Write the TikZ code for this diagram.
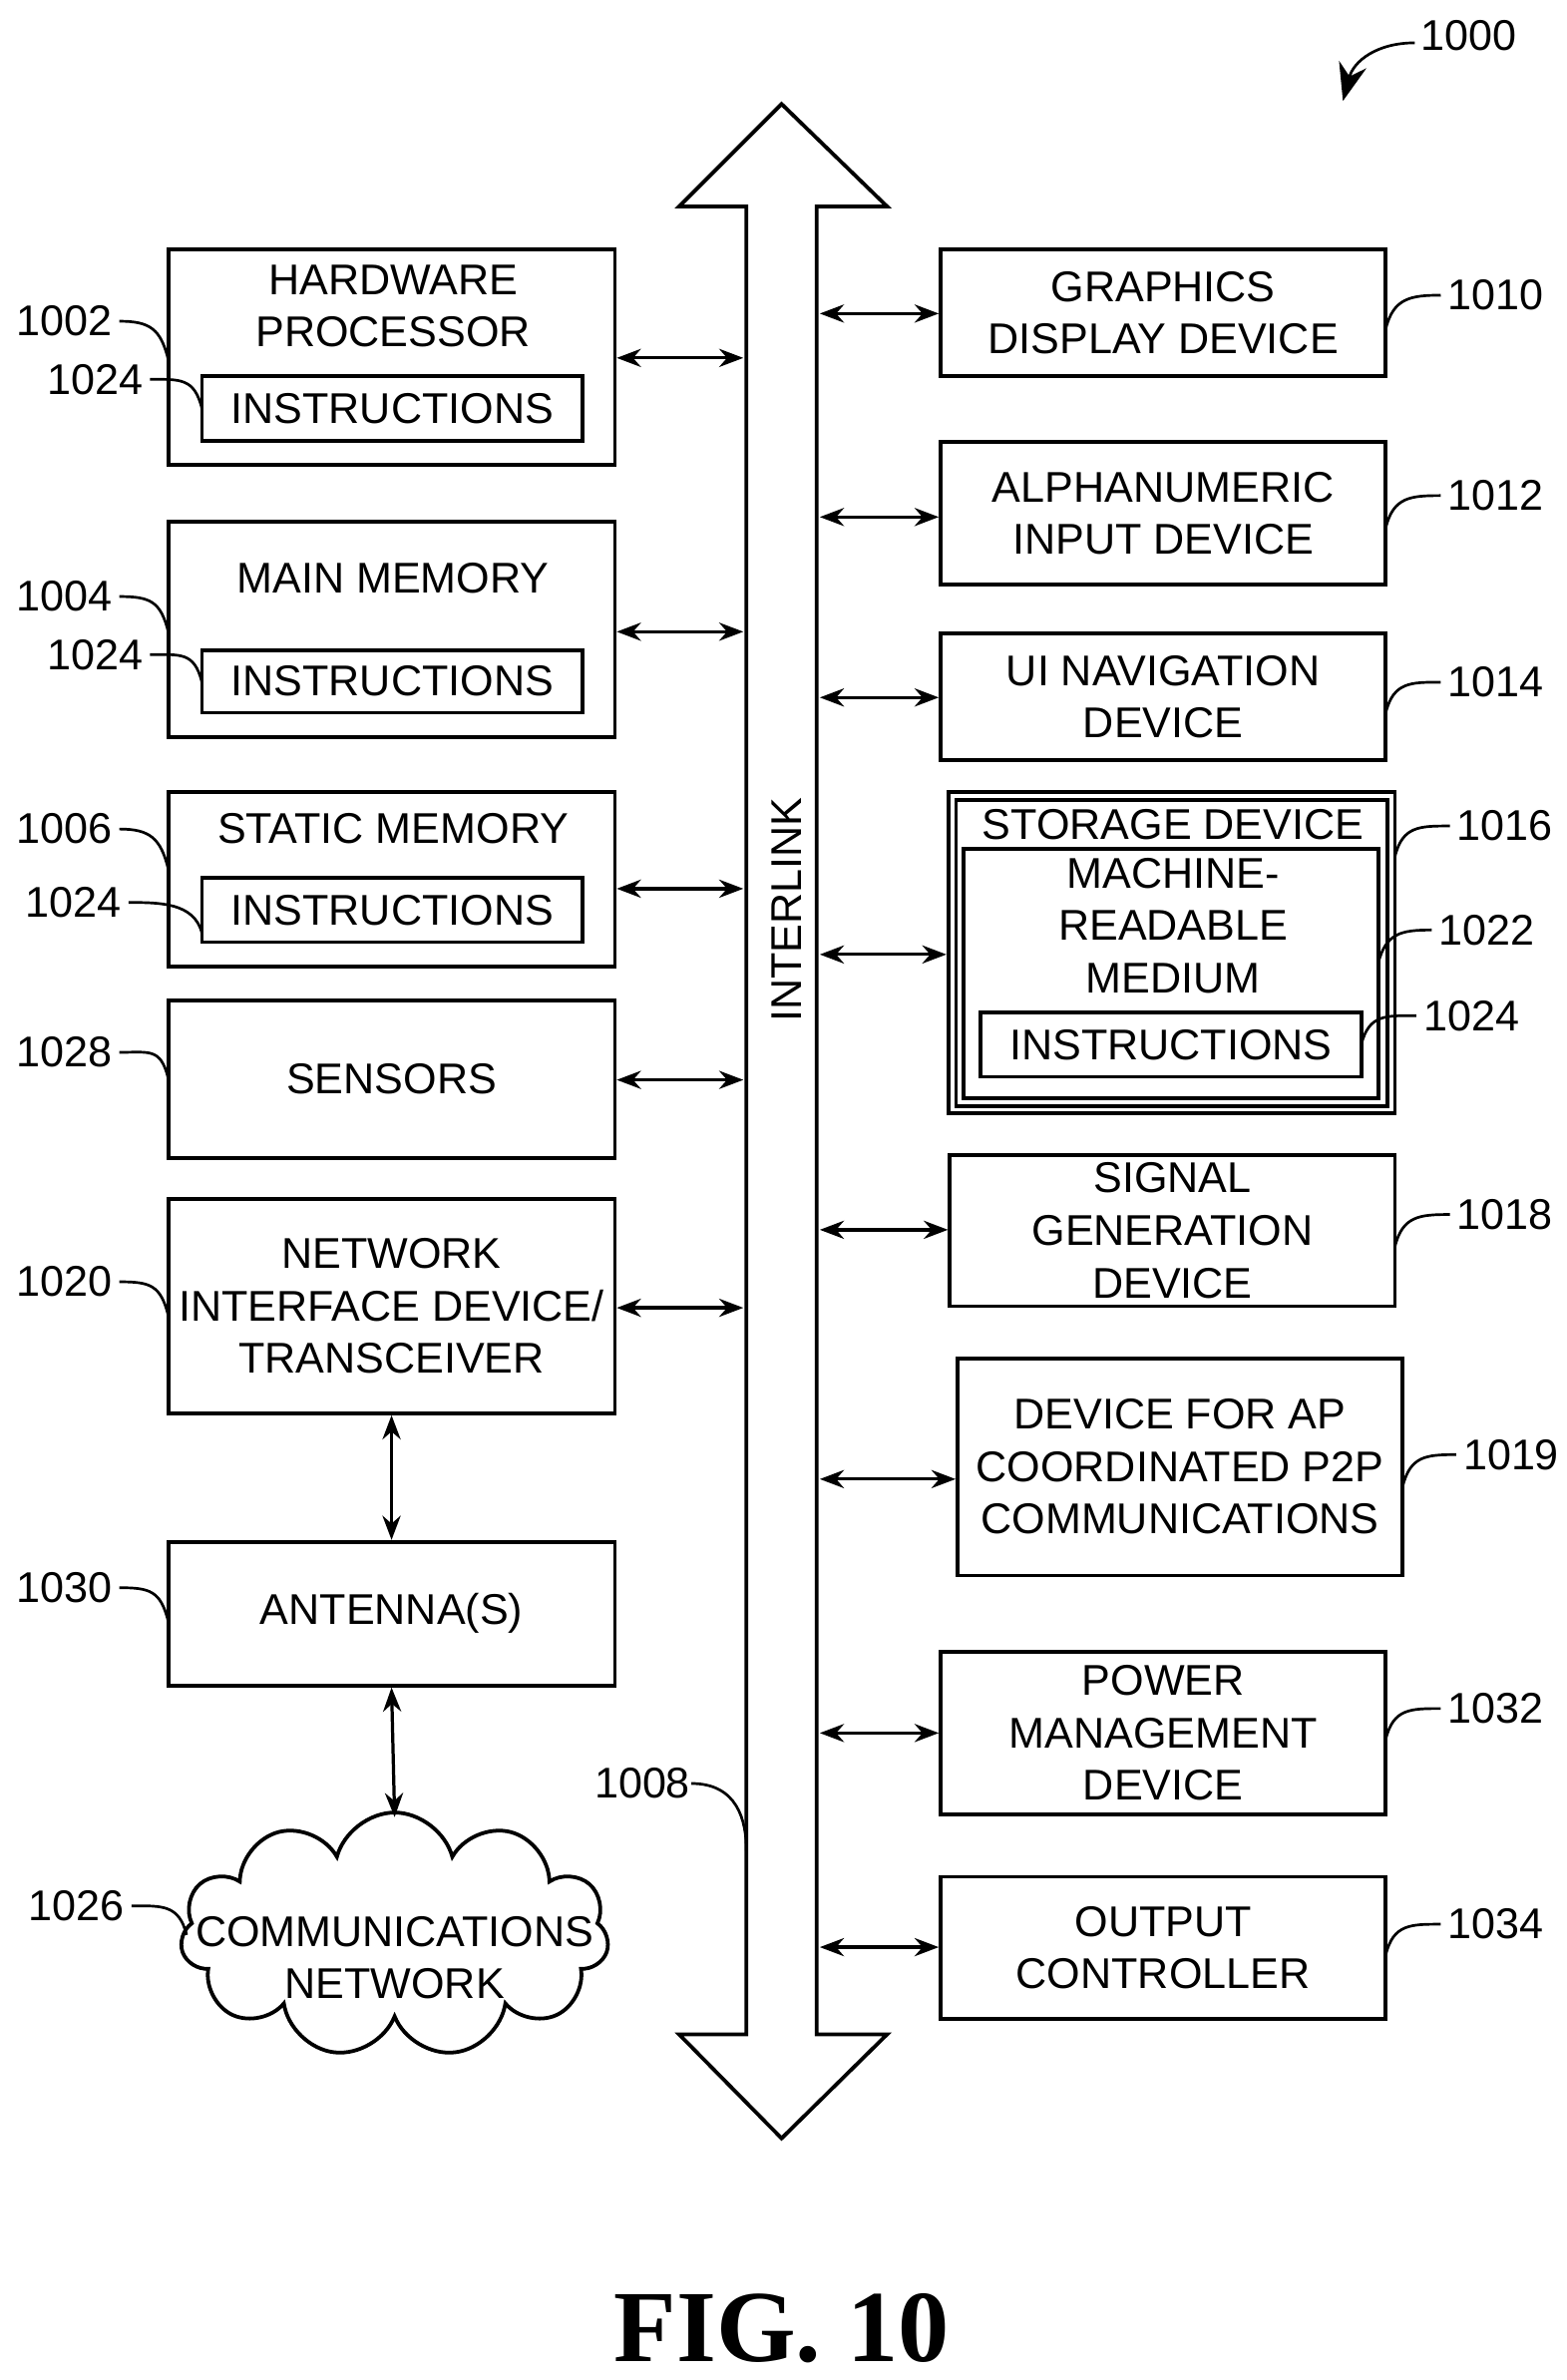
\documentclass[tikz,border=0pt]{standalone}
\usepackage{fontspec}
\setmainfont{Liberation Sans}
\newfontfamily\figfont{Liberation Serif}
\usetikzlibrary{shapes.symbols,arrows.meta}
\tikzset{
  blk/.style={draw,line width=1.4pt,align=center,inner sep=0pt},
  lbl/.style={font=\fontsize{16}{19.5}\selectfont},
  lead/.style={line width=1pt},
  io/.style={line width=1.2pt,{Stealth[length=9pt]}-{Stealth[length=9pt]}}
}
% box from corner to corner (px)
\newcommand{\bx}[6]{\node[blk,minimum width=#4*0.02cm-#2*0.02cm,minimum height=#5*0.02cm-#3*0.02cm,lbl] (#1) at ({(#2+#4)/2},{(#3+#5)/2}) {#6};}
\begin{document}
\begin{tikzpicture}[x=0.02cm,y=-0.02cm]
\useasboundingbox (0,0) rectangle (1024,1556);
% Left column
\bx{hp}{110}{163}{402}{304}{}
\node[lbl,align=center] at (257,200) {HARDWARE\\PROCESSOR};
\bx{hpi}{132}{246}{381}{288}{INSTRUCTIONS}
\bx{mm}{110}{341}{402}{482}{}
\node[lbl] at (257,378) {MAIN MEMORY};
\bx{mmi}{132}{425}{381}{466}{INSTRUCTIONS}
\bx{sm}{110}{518}{402}{632}{}
\node[lbl] at (257,542) {STATIC MEMORY};
\bx{smi}{132}{574}{381}{616}{INSTRUCTIONS}
\bx{sens}{110}{654}{402}{757}{SENSORS}
\bx{nic}{110}{784}{402}{924}{NETWORK\\INTERFACE DEVICE/\\TRANSCEIVER}
\bx{ant}{110}{1008}{402}{1102}{ANTENNA(S)}
\node[draw,line width=1.4pt,cloud,cloud puffs=11,aspect=2,minimum width=280*0.02cm,minimum height=160*0.02cm] (net) at (258,1265) {};
\node[lbl,align=center] at (258,1280) {COMMUNICATIONS\\NETWORK};

% Interlink bus
\draw[line width=1.4pt] (511,68) -- (580,135) -- (534,135) -- (534,1330) -- (580,1330)
  -- (511,1398) -- (444,1330) -- (488,1330) -- (488,135) -- (444,135) -- cycle;
\node[lbl,rotate=90] at (514,595) {INTERLINK};

% Right column
\bx{gd}{615}{163}{906}{246}{GRAPHICS\\DISPLAY DEVICE}
\bx{an}{615}{289}{906}{382}{ALPHANUMERIC\\INPUT DEVICE}
\bx{ui}{615}{414}{906}{497}{UI NAVIGATION\\DEVICE}
\bx{st}{620}{518}{912}{728}{}
\draw[line width=1.4pt] (625,523) rectangle (907,723);
\node[lbl] at (767,539) {STORAGE DEVICE};
\bx{mrm}{630}{555}{901}{718}{}
\node[lbl,align=center] at (767,605) {MACHINE-\\READABLE\\MEDIUM};
\bx{sti}{641}{662}{890}{704}{INSTRUCTIONS}
\bx{sg}{621}{755}{912}{854}{SIGNAL\\GENERATION\\DEVICE}
\bx{ap}{626}{888}{917}{1030}{DEVICE FOR AP\\COORDINATED P2P\\COMMUNICATIONS}
\bx{pm}{615}{1080}{906}{1186}{POWER\\MANAGEMENT\\DEVICE}
\bx{oc}{615}{1227}{906}{1320}{OUTPUT\\CONTROLLER}

% Bus arrows
\foreach \n/\y in {hp/234,mm/413,sm/581,sens/706,nic/855}
  \draw[io] (\n.east |- 0,\y) -- (486,\y);
\foreach \n/\y in {gd/205,an/338,ui/456,st/624,sg/804,ap/967,pm/1133,oc/1273}
  \draw[io] (536,\y) -- (\n.west |- 0,\y);
\draw[io] (nic.south) -- (ant.north);
\draw[io] (ant.south) -- (258,1188);

% Reference labels
\foreach \t/\x/\y/\ex/\ey in {1002/42/210/110/235,1004/42/390/110/413,1006/42/542/110/568,
  1028/42/688/110/705,1020/42/838/110/860,1030/42/1038/110/1060,1026/50/1246/122/1265}
  \draw[lead] (\x,\y) node[lbl] {\t} ++(36,0) .. controls ++(20,0) and (\ex-5,\ey-20) .. (\ex,\ey);
\foreach \t/\x/\y/\ex/\ey in {1024/62/248/132/267,1024/62/428/132/446,1024/48/590/132/610}
  \draw[lead] (\x,\y) node[lbl] {\t} ++(36,0) .. controls ++(20,0) and (\ex-5,\ey-20) .. (\ex,\ey);
\foreach \t/\x/\y/\ex/\ey in {1010/978/193/906/215,1012/978/324/906/345,1014/978/446/906/466,
  1016/984/540/912/560,1022/972/608/901/630,1024/962/664/890/683,1018/984/794/912/815,
  1019/988/951/917/972,1032/978/1117/906/1137,1034/978/1258/906/1278}
  \draw[lead] (\x,\y) node[lbl] {\t} ++(-36,0) .. controls ++(-20,0) and (\ex+5,\ey-20) .. (\ex,\ey);
\draw[lead] (420,1166) node[lbl] {1008} ++(32,0) .. controls ++(30,0) and (488,1190) .. (488,1210);
\node[lbl] at (960,23) {1000};
\draw[lead,-{Stealth[length=14pt]}] (925,28) .. controls (900,28) and (885,40) .. (878,66);

\node[font=\figfont\bfseries\fontsize{38}{42}\selectfont] at (511,1522) {FIG. 10};
\end{tikzpicture}
\end{document}
